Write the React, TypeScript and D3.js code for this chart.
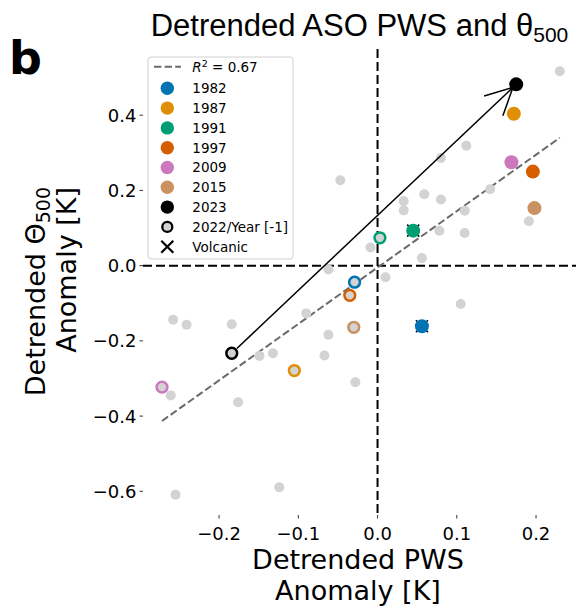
import React from "react";
import * as d3 from "d3";

// ---- data ----
const grayX = [-0.047, 0.230, 0.112, 0.080, 0.142, 0.059, 0.080, 0.033, 0.033, 0.110, 0.191, 0.078, 0.110, -0.009, 0.056, 0.010, -0.062, -0.090, -0.258, -0.241, -0.184, -0.062, -0.149, -0.132, -0.067, -0.028, -0.261, -0.176, -0.124, -0.255, 0.105];
const grayY = [0.227, 0.517, 0.319, 0.286, 0.203, 0.190, 0.176, 0.172, 0.147, 0.146, 0.118, 0.093, 0.087, 0.048, 0.020, -0.031, -0.010, -0.127, -0.144, -0.157, -0.156, -0.184, -0.240, -0.233, -0.239, -0.310, -0.345, -0.363, -0.589, -0.609, -0.102];

const years = ["1982", "1987", "1991", "1997", "2009", "2015", "2023"];
const yearColors = ["#0173B2", "#DE8F05", "#029E73", "#D55E00", "#CC78BC", "#CA9161", "#000000"];
const yearX = [0.056, 0.172, 0.045, 0.196, 0.169, 0.198, 0.175];
const yearY = [-0.161, 0.404, 0.093, 0.250, 0.275, 0.153, 0.482];
const volcanic = [true, false, true, false, false, false, false];
const prevX = [-0.029, -0.105, 0.003, -0.035, -0.272, -0.030, -0.184];
const prevY = [-0.044, -0.279, 0.074, -0.079, -0.323, -0.164, -0.233];

const fitSlope = 1.5;
const fitIntercept = -0.005;
const r2Label = "0.67";

const xTicks = [-0.2, -0.1, 0.0, 0.1, 0.2];
const yTicks = [-0.6, -0.4, -0.2, 0.0, 0.2, 0.4];

const W = 576;
const H = 607;
const left = 143, right = 579.6, top = 49, bottom = 515;

export default function App() {
  const x = d3.scaleLinear().domain([-0.296, 0.255]).range([left, right]);
  const y = d3.scaleLinear().domain([-0.663, 0.576]).range([bottom, top]);
  const fmt = d3.format(".1f");
  const dejavu = "DejaVu Sans, sans-serif";

  const allX = [...grayX, ...yearX, ...prevX];
  const xmin = d3.min(allX) as number;
  const xmax = d3.max(allX) as number;
  const fitLine = d3.line<number>().x((v) => x(v)).y((v) => y(fitSlope * v + fitIntercept));

  // arrow from 2022 to 2023
  const ai = years.indexOf("2023");
  const x0 = x(prevX[ai]), y0 = y(prevY[ai]);
  const x1 = x(yearX[ai]), y1 = y(yearY[ai]);
  const ang = Math.atan2(y1 - y0, x1 - x0);
  const sx = x0 + 7 * Math.cos(ang), sy = y0 + 7 * Math.sin(ang);
  const ex = x1 - 4.5 * Math.cos(ang), ey = y1 - 4.5 * Math.sin(ang);
  const wing = 30, wa = (27 * Math.PI) / 180;
  const w1x = ex - wing * Math.cos(ang - wa), w1y = ey - wing * Math.sin(ang - wa);
  const w2x = ex - wing * Math.cos(ang + wa), w2y = ey - wing * Math.sin(ang + wa);

  const legX = 167.3, legTextX = 192.3;
  const legY0 = 88.3, legStep = 19.8;

  return (
    <svg width={W} height={H} style={{ position: "absolute", left: 0, top: 0 }} fontFamily={dejavu}>
      <rect width={W} height={H} fill="white" />
      {/* panel letter */}
      <text x={9} y={74} fontSize={46} fontWeight="bold" fontFamily={dejavu}>b</text>
      {/* title */}
      <text x={359.5} y={36} textAnchor="middle" fontSize={31} fontFamily="Liberation Sans, Arial, sans-serif">
        Detrended ASO PWS and θ<tspan fontSize={21} dy={6}>500</tspan>
      </text>

      {/* reference lines */}
      <line x1={x(0)} x2={x(0)} y1={top} y2={bottom} stroke="black" strokeWidth={2} strokeDasharray="9,4" />
      <line x1={left} x2={W} y1={y(0)} y2={y(0)} stroke="black" strokeWidth={2} strokeDasharray="9,4" />

      {/* regression */}
      <path d={fitLine([xmin, xmax]) || ""} fill="none" stroke="#6a6a6a" strokeWidth={2} strokeDasharray="7.4,3.2" />

      {/* gray points */}
      {grayX.map((gx, i) => (
        <circle key={"g" + i} cx={x(gx)} cy={y(grayY[i])} r={5} fill="#d3d3d3" />
      ))}
      {/* previous year (open) */}
      {prevX.map((px, i) => (
        <circle key={"p" + i} cx={x(px)} cy={y(prevY[i])} r={5.4} fill="#d3d3d3" stroke={yearColors[i]} strokeWidth={2.5} />
      ))}
      {/* volcanic X */}
      {yearX.map((vx, i) =>
        volcanic[i] ? (
          <g key={"v" + i} stroke="black" strokeWidth={1.6}>
            <line x1={x(vx) - 6} x2={x(vx) + 6} y1={y(yearY[i]) - 6} y2={y(yearY[i]) + 6} />
            <line x1={x(vx) - 6} x2={x(vx) + 6} y1={y(yearY[i]) + 6} y2={y(yearY[i]) - 6} />
          </g>
        ) : null
      )}
      {/* highlighted years */}
      {yearX.map((vx, i) => (
        <circle key={"y" + i} cx={x(vx)} cy={y(yearY[i])} r={7} fill={yearColors[i]} />
      ))}

      {/* arrow */}
      <g stroke="black" strokeWidth={1.5} fill="none">
        <line x1={sx} y1={sy} x2={ex} y2={ey} />
        <polyline points={`${w1x},${w1y} ${ex},${ey} ${w2x},${w2y}`} />
      </g>

      {/* axes ticks */}
      {yTicks.map((t) => (
        <g key={"yt" + t}>
          <line x1={left - 3.5} x2={left} y1={y(t)} y2={y(t)} stroke="black" strokeWidth={0.8} />
          <text x={left - 6.5} y={y(t)} dy="0.36em" textAnchor="end" fontSize={18}>{fmt(t)}</text>
        </g>
      ))}
      {xTicks.map((t) => (
        <g key={"xt" + t}>
          <line x1={x(t)} x2={x(t)} y1={bottom} y2={bottom + 3.5} stroke="black" strokeWidth={0.8} />
          <text x={x(t)} y={540} textAnchor="middle" fontSize={18}>{fmt(t)}</text>
        </g>
      ))}

      {/* axis labels */}
      <text x={358} y={569} textAnchor="middle" fontSize={27}>Detrended PWS</text>
      <text x={358} y={600} textAnchor="middle" fontSize={27}>Anomaly [K]</text>
      <g transform="translate(45,187) rotate(-90)">
        <text x={0} y={0} textAnchor="end" fontSize={27}>
          Detrended Θ<tspan fontSize={19} dy={5}>500</tspan>
        </text>
      </g>
      <g transform="translate(76,187) rotate(-90)">
        <text x={0} y={0} textAnchor="end" fontSize={27}>Anomaly [K]</text>
      </g>

      {/* legend */}
      <rect x={148} y={57} width={145} height={202} rx={3} fill="white" fillOpacity={0.8} stroke="#d0d0d0" strokeWidth={1} />
      <line x1={154} x2={181} y1={66.7} y2={66.7} stroke="#6a6a6a" strokeWidth={2} strokeDasharray="7.4,3.2" />
      <text x={legTextX} y={66.7} dy="0.36em" fontSize={13.5}>
        <tspan fontStyle="italic">R</tspan>
        <tspan fontSize={9.5} dy={-5}>2</tspan>
        <tspan dy={5}>{" = " + r2Label}</tspan>
      </text>
      {years.map((yr, i) => (
        <g key={"l" + yr}>
          <circle cx={legX} cy={legY0 + i * legStep} r={6.7} fill={yearColors[i]} />
          <text x={legTextX} y={legY0 + i * legStep} dy="0.36em" fontSize={13.5}>{yr}</text>
        </g>
      ))}
      <circle cx={legX} cy={legY0 + 7 * legStep} r={5} fill="#d3d3d3" stroke="black" strokeWidth={2.3} />
      <text x={legTextX} y={legY0 + 7 * legStep} dy="0.36em" fontSize={13.5}>2022/Year [-1]</text>
      <g stroke="black" strokeWidth={2.2}>
        <line x1={legX - 6} x2={legX + 6} y1={legY0 + 8 * legStep - 6} y2={legY0 + 8 * legStep + 6} />
        <line x1={legX - 6} x2={legX + 6} y1={legY0 + 8 * legStep + 6} y2={legY0 + 8 * legStep - 6} />
      </g>
      <text x={legTextX} y={legY0 + 8 * legStep} dy="0.36em" fontSize={13.5}>Volcanic</text>
    </svg>
  );
}
